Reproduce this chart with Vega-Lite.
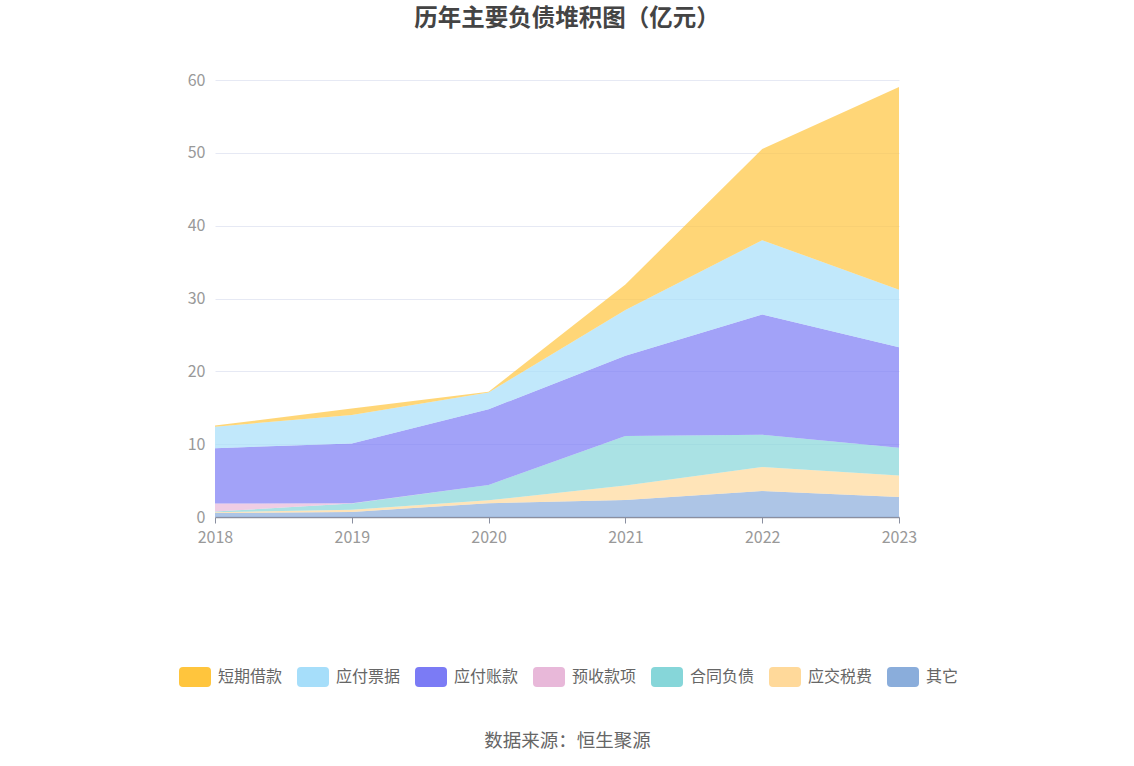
{
  "$schema": "https://vega.github.io/schema/vega-lite/v6.json",
  "width": 684,
  "height": 437,
  "autosize": {"type": "none"},
  "padding": {"left": 215, "top": 80, "right": 235, "bottom": 249},
  "background": "white",
  "config": {
    "font": "Noto Sans CJK SC",
    "view": {"stroke": null}
  },
  "title": {
    "text": "历年主要负债堆积图（亿元）",
    "fontSize": 23.5,
    "fontWeight": "bold",
    "color": "#444444",
    "anchor": "middle",
    "dx": 10,
    "offset": 42
  },
  "data": {
    "values": [
      {"year": "2018", "item": "其它", "rank": 1, "value": 0.55},
      {"year": "2018", "item": "应交税费", "rank": 2, "value": 0.1},
      {"year": "2018", "item": "合同负债", "rank": 3, "value": 0.1},
      {"year": "2018", "item": "预收款项", "rank": 4, "value": 1.1},
      {"year": "2018", "item": "应付账款", "rank": 5, "value": 7.6},
      {"year": "2018", "item": "应付票据", "rank": 6, "value": 2.95},
      {"year": "2018", "item": "短期借款", "rank": 7, "value": 0.15},
      {"year": "2019", "item": "其它", "rank": 1, "value": 0.7},
      {"year": "2019", "item": "应交税费", "rank": 2, "value": 0.3},
      {"year": "2019", "item": "合同负债", "rank": 3, "value": 0.85},
      {"year": "2019", "item": "预收款项", "rank": 4, "value": 0.05},
      {"year": "2019", "item": "应付账款", "rank": 5, "value": 8.2},
      {"year": "2019", "item": "应付票据", "rank": 6, "value": 3.9},
      {"year": "2019", "item": "短期借款", "rank": 7, "value": 0.9},
      {"year": "2020", "item": "其它", "rank": 1, "value": 1.9},
      {"year": "2020", "item": "应交税费", "rank": 2, "value": 0.4},
      {"year": "2020", "item": "合同负债", "rank": 3, "value": 2.1},
      {"year": "2020", "item": "预收款项", "rank": 4, "value": 0},
      {"year": "2020", "item": "应付账款", "rank": 5, "value": 10.4},
      {"year": "2020", "item": "应付票据", "rank": 6, "value": 2.3},
      {"year": "2020", "item": "短期借款", "rank": 7, "value": 0.1},
      {"year": "2021", "item": "其它", "rank": 1, "value": 2.33},
      {"year": "2021", "item": "应交税费", "rank": 2, "value": 2.0},
      {"year": "2021", "item": "合同负债", "rank": 3, "value": 6.8},
      {"year": "2021", "item": "预收款项", "rank": 4, "value": 0},
      {"year": "2021", "item": "应付账款", "rank": 5, "value": 11.0},
      {"year": "2021", "item": "应付票据", "rank": 6, "value": 6.3},
      {"year": "2021", "item": "短期借款", "rank": 7, "value": 3.5},
      {"year": "2022", "item": "其它", "rank": 1, "value": 3.56},
      {"year": "2022", "item": "应交税费", "rank": 2, "value": 3.3},
      {"year": "2022", "item": "合同负债", "rank": 3, "value": 4.45},
      {"year": "2022", "item": "预收款项", "rank": 4, "value": 0},
      {"year": "2022", "item": "应付账款", "rank": 5, "value": 16.5},
      {"year": "2022", "item": "应付票据", "rank": 6, "value": 10.2},
      {"year": "2022", "item": "短期借款", "rank": 7, "value": 12.5},
      {"year": "2023", "item": "其它", "rank": 1, "value": 2.74},
      {"year": "2023", "item": "应交税费", "rank": 2, "value": 2.96},
      {"year": "2023", "item": "合同负债", "rank": 3, "value": 3.8},
      {"year": "2023", "item": "预收款项", "rank": 4, "value": 0},
      {"year": "2023", "item": "应付账款", "rank": 5, "value": 13.8},
      {"year": "2023", "item": "应付票据", "rank": 6, "value": 7.9},
      {"year": "2023", "item": "短期借款", "rank": 7, "value": 27.85}
    ]
  },
  "mark": {"type": "area", "fillOpacity": 0.7, "strokeWidth": 0},
  "encoding": {
    "x": {
      "field": "year",
      "type": "ordinal",
      "scale": {"type": "point", "padding": 0},
      "axis": {
        "labelAngle": 0,
        "labelColor": "#999999",
        "labelFontSize": 16,
        "labelPadding": 6,
        "domainColor": "#8a8fa0",
        "domainWidth": 1.5,
        "tickColor": "#8a8fa0",
        "tickSize": 6,
        "grid": false,
        "title": "数据来源：恒生聚源",
        "titleFontSize": 18.5,
        "titleFontWeight": "normal",
        "titleColor": "#666666",
        "titlePadding": 186,
        "titleX": 352
      }
    },
    "y": {
      "field": "value",
      "type": "quantitative",
      "stack": "zero",
      "scale": {"domain": [0, 60], "nice": false},
      "axis": {
        "values": [0, 10, 20, 30, 40, 50, 60],
        "title": null,
        "domain": false,
        "ticks": false,
        "labelColor": "#999999",
        "labelFontSize": 16,
        "labelPadding": 10,
        "gridColor": "#e6e9f4",
        "gridWidth": 1
      }
    },
    "order": {"field": "rank", "type": "quantitative", "sort": "ascending"},
    "color": {
      "field": "item",
      "type": "nominal",
      "scale": {
        "domain": ["短期借款", "应付票据", "应付账款", "预收款项", "合同负债", "应交税费", "其它"],
        "range": ["#ffc53d", "#a6defa", "#7b7bf5", "#e8b8d9", "#86d6d9", "#ffd99a", "#8aaddb"]
      },
      "legend": {
        "orient": "none",
        "legendX": -36,
        "legendY": 581,
        "direction": "horizontal",
        "title": null,
        "symbolType": "M-0.75,-0.625H0.75Q1,-0.625 1,-0.375V0.375Q1,0.625 0.75,0.625H-0.75Q-1,0.625 -1,0.375V-0.375Q-1,-0.625 -0.75,-0.625Z",
        "symbolSize": 1024,
        "symbolOpacity": 1,
        "symbolStrokeWidth": 0,
        "labelFontSize": 16,
        "labelColor": "#666666",
        "labelOffset": 7,
        "columnPadding": 14
      }
    }
  }
}
